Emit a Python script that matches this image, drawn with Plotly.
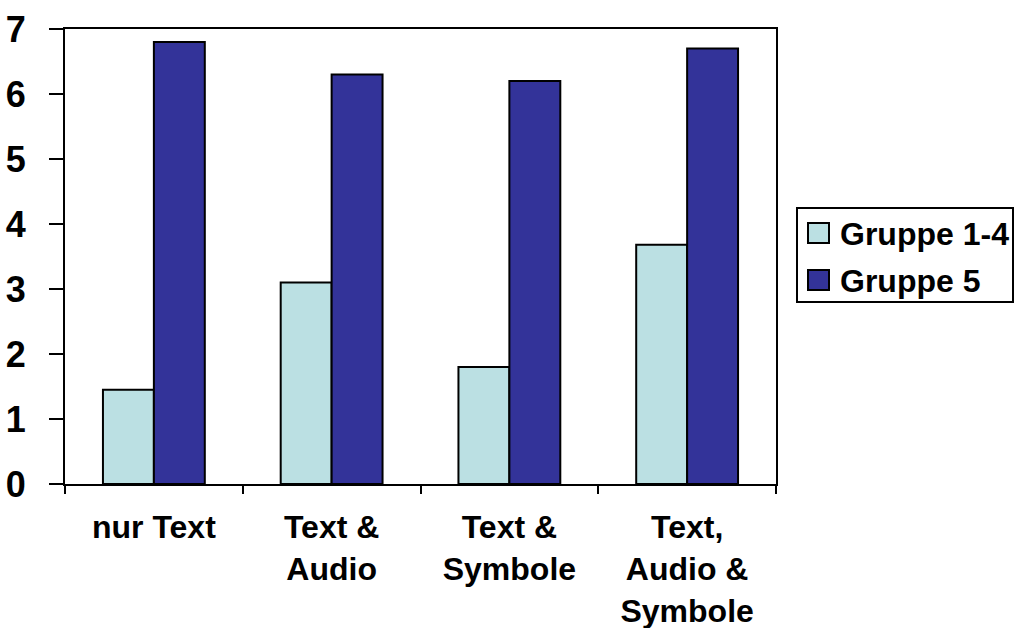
import plotly.graph_objects as go

# Categories and values per group
categories = ["nur Text", "Text &<br>Audio", "Text &<br>Symbole", "Text,<br>Audio &<br>Symbole"]
gruppe_1_4 = [1.45, 3.1, 1.8, 3.68]
gruppe_5 = [6.8, 6.3, 6.2, 6.7]
series_names = ["Gruppe 1-4", "Gruppe 5"]
series_colors = ["#BBE0E3", "#333399"]
y_ticks = [0, 1, 2, 3, 4, 5, 6, 7]

FONT = "Liberation Sans, Arial, sans-serif"
W, H = 1015, 628
M_L, M_R, M_T, M_B = 65, 239, 29, 144
PW, PH = W - M_L - M_R, H - M_T - M_B


def px_x(px):
    """Horizontal pixel position to paper coordinate."""
    return (px - M_L) / PW


def px_y(py):
    """Vertical pixel position (from top) to paper coordinate."""
    return (H - M_B - py) / PH


fig = go.Figure()
for name, values, color in zip(series_names, [gruppe_1_4, gruppe_5], series_colors):
    fig.add_trace(go.Bar(
        x=categories, y=values, name=name, showlegend=False,
        marker=dict(color=color, line=dict(color="black", width=2)),
    ))

# Legend box drawn with shapes and annotations (large square swatches)
shapes = [dict(
    type="rect", xref="paper", yref="paper",
    x0=px_x(797), x1=px_x(1013), y0=px_y(302), y1=px_y(208),
    line=dict(color="black", width=2), fillcolor="white", layer="below",
)]
annotations = []
for i, (name, color) in enumerate(zip(series_names, series_colors)):
    top = 223 + i * 47
    shapes.append(dict(
        type="rect", xref="paper", yref="paper",
        x0=px_x(808), x1=px_x(829), y0=px_y(top + 20), y1=px_y(top),
        line=dict(color="black", width=2), fillcolor=color,
    ))
    annotations.append(dict(
        xref="paper", yref="paper", x=px_x(838), y=px_y(top + 11),
        xanchor="left", yanchor="middle", showarrow=False, text=name,
        font=dict(family=FONT, size=32, color="black", weight="bold"),
    ))

fig.update_layout(
    width=W, height=H,
    margin=dict(l=M_L, r=M_R, t=M_T, b=M_B),
    paper_bgcolor="white", plot_bgcolor="white",
    barmode="group", bargap=0.427, bargroupgap=0,
    font=dict(family=FONT, color="black"),
    showlegend=False,
    shapes=shapes, annotations=annotations,
)
fig.update_xaxes(
    type="category", tickson="boundaries", automargin=False,
    ticks="outside", ticklen=8, tickwidth=2, tickcolor="black",
    showline=True, linecolor="black", linewidth=2, mirror=True,
    showgrid=False,
    tickfont=dict(family=FONT, size=32, color="black", weight="bold"),
    ticklabelstandoff=14,
)
fig.update_yaxes(
    range=[0, 7], tickvals=y_ticks, automargin=False,
    ticks="outside", ticklen=14, tickwidth=2, tickcolor="black",
    showline=True, linecolor="black", linewidth=2, mirror=True,
    showgrid=False, zeroline=False,
    tickfont=dict(family=FONT, size=36, color="black", weight="bold"),
    ticklabelstandoff=16,
)

fig.write_html("out.html")
